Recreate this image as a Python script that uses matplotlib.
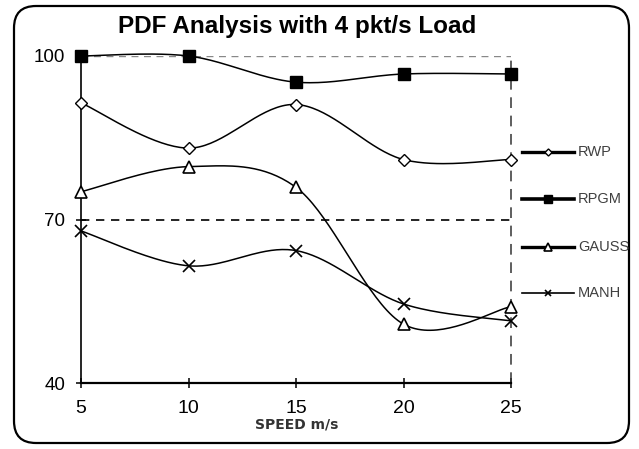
import numpy as np
import matplotlib
matplotlib.use("Agg")
import matplotlib.pyplot as plt
from matplotlib.patches import FancyBboxPatch

plt.rcParams['font.family'] = ['Liberation Sans', 'DejaVu Sans']

speed = [5, 10, 15, 20, 25]
rwp = [91.4, 83.1, 91.1, 81.0, 81.0]
rpgm = [100.0, 100.0, 95.2, 96.7, 96.7]
gauss = [75.1, 79.7, 75.9, 50.8, 54.0]
manh = [67.9, 61.5, 64.3, 54.5, 51.4]
series_names = ["RWP", "RPGM", "GAUSS", "MANH"]
y_ticks = [40, 70, 100]
x_ticks = [5, 10, 15, 20, 25]


def smooth(xs, ys, n=40):
    """Excel-style smoothed line (Catmull-Rom Bezier) through the points."""
    P = np.column_stack([xs, ys]).astype(float)
    P_ext = np.vstack([P[0], P, P[-1]])
    out = []
    t = np.linspace(0, 1, n)[:, None]
    for i in range(1, len(P_ext) - 2):
        p0, p1, p2, p3 = P_ext[i - 1], P_ext[i], P_ext[i + 1], P_ext[i + 2]
        c1 = p1 + (p2 - p0) / 6.0
        c2 = p2 - (p3 - p1) / 6.0
        seg = ((1 - t) ** 3) * p1 + 3 * ((1 - t) ** 2) * t * c1 + 3 * (1 - t) * t ** 2 * c2 + t ** 3 * p2
        out.append(seg if i == 1 else seg[1:])
    out = np.vstack(out)
    return out[:, 0], out[:, 1]


W, H = 639, 449
fig = plt.figure(figsize=(W / 100, H / 100), dpi=100)

# background frame
bg = fig.add_axes([0, 0, 1, 1], zorder=-5)
bg.set_xlim(0, W)
bg.set_ylim(H, 0)
bg.axis('off')
bg.add_patch(FancyBboxPatch((14, 6), 615, 437, boxstyle="round,pad=0,rounding_size=22",
                            fc='white', ec='black', lw=1.6))

# plot area
x0, x1 = 81, 511
y0, y1 = 56, 383
ax = fig.add_axes([x0 / W, 1 - y1 / H, (x1 - x0) / W, (y1 - y0) / H])
ax.set_xlim(5, 25)
ax.set_ylim(40, 100)
ax.patch.set_alpha(0)

ax.axhline(100, color='#888888', lw=1.0, ls=(0, (5, 4)), zorder=1)
ax.axhline(70, color='black', lw=1.2, ls=(0, (5, 4)), zorder=1)
ax.axvline(25, color='#333333', lw=1.1, ls=(0, (7, 5)), zorder=2, clip_on=False)

for s in ['top', 'right']:
    ax.spines[s].set_visible(False)
ax.spines['left'].set_linewidth(1.2)
ax.spines['bottom'].set_linewidth(1.6)
ax.set_xticks(x_ticks)
ax.set_yticks(y_ticks)
ax.tick_params(direction='inout', length=7, width=1.1)
ax.tick_params(axis='y', labelsize=13.5, pad=8)
ax.tick_params(axis='x', labelsize=14, pad=9)

styles = [
    dict(marker='D', ms=6, mfc='white', mec='black', mew=1.0),
    dict(marker='s', ms=8.5, mfc='black', mec='black', mew=1.0),
    dict(marker='^', ms=9, mfc='white', mec='black', mew=1.2),
    dict(marker='x', ms=8, mfc='black', mec='black', mew=1.2),
]
data = [rwp, rpgm, gauss, manh]
for vals, st, name in zip(data, styles, series_names):
    sx, sy = smooth(speed, vals)
    ax.plot(sx, sy, color='black', lw=1.1, zorder=3, clip_on=False)
    ax.plot(speed, vals, ls='none', zorder=4, clip_on=False, **st)

# legend
leg_y = [152, 199, 247, 293]
for yy, st, name, lw in zip(leg_y, styles, series_names, [2.4, 2.6, 2.4, 1.2]):
    bg.plot([522, 574], [yy, yy], color='black', lw=lw)
    st2 = dict(st)
    st2['ms'] = st['ms'] * 0.6
    bg.plot([548], [yy], ls='none', **st2)
    bg.text(578, yy, name, fontsize=10.5, color='#404040', va='center', ha='left')

fig.text(297 / W, 1 - 33 / H, "PDF Analysis with 4 pkt/s Load", fontsize=17.5,
         fontweight='bold', ha='center', va='baseline')
fig.text(297 / W, 1 - 425 / H, "SPEED m/s", fontsize=10, fontweight='bold',
         family='DejaVu Sans', ha='center', va='center', color='#333333')

fig.savefig("out.png", dpi=100)
